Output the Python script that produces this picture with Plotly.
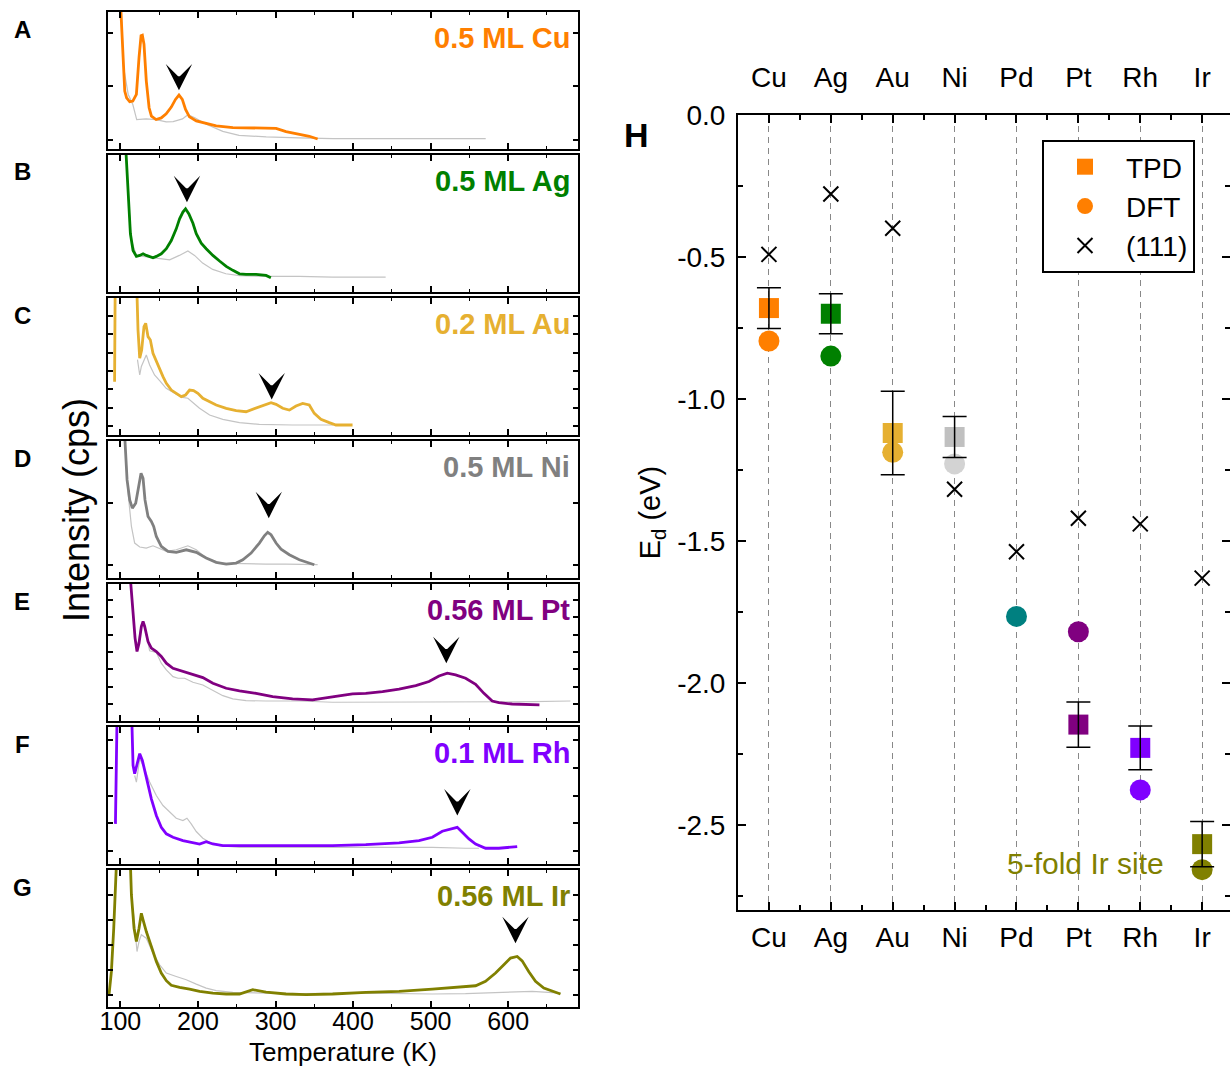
import plotly.graph_objects as go

W, H = 1230, 1068
FONT = "Arial, Liberation Sans, sans-serif"

# ---------------- Panels A-G : TPD spectra (arb. units, fraction of panel) ----------------
cu_T = [99, 103, 105.6, 108, 112, 116, 120.6, 124, 126.6, 128.3, 130.4, 133.4, 137, 140, 146, 152.7, 159,
        165.6, 171, 175.5, 179.8, 184, 189, 197.8, 210.6, 223.5, 245, 266, 287.8, 300.7, 313.5, 330.7, 343.6, 354.3]
cu_I = [1.2, 0.667, 0.423, 0.374, 0.345, 0.350, 0.399, 0.667, 0.826, 0.83, 0.765, 0.496, 0.301, 0.240, 0.215,
        0.227, 0.257, 0.306, 0.362, 0.394, 0.362, 0.289, 0.235, 0.205, 0.186, 0.169, 0.156, 0.154, 0.156, 0.151,
        0.127, 0.105, 0.093, 0.073]
cu_ref_T = [100, 104, 110, 116, 121, 133, 146, 159, 168, 180, 187, 196, 210, 232, 253, 288, 330, 374, 450, 520, 571]
cu_ref_I = [1.2, 0.6, 0.4, 0.325, 0.215, 0.22, 0.215, 0.198, 0.2, 0.22, 0.25, 0.228, 0.183, 0.129, 0.100, 0.088,
            0.081, 0.076, 0.076, 0.077, 0.076]

ag_T = [105, 109.9, 112.9, 116.3, 120.6, 124.9, 129.2, 133.4, 137.7, 142, 146.3, 152.7, 159.2, 165.6, 172, 176.3,
        180.6, 184, 188.3, 193.5, 197.8, 204.2, 210.6, 219.2, 227.8, 236.4, 245, 253.5, 262, 275, 287.8, 294]
ag_I = [1.25, 0.667, 0.425, 0.303, 0.260, 0.267, 0.279, 0.267, 0.260, 0.250, 0.260, 0.279, 0.316, 0.376, 0.461,
        0.534, 0.583, 0.607, 0.570, 0.502, 0.425, 0.357, 0.316, 0.267, 0.226, 0.187, 0.158, 0.133, 0.129, 0.129,
        0.121, 0.104]
ag_ref_T = [106, 110, 114.2, 120.6, 129.2, 142, 155, 163.5, 176, 187, 195.6, 206, 219, 236, 253.5, 288, 330.7,
            373.6, 442]
ag_ref_I = [1.2, 0.7, 0.376, 0.267, 0.260, 0.250, 0.243, 0.235, 0.267, 0.299, 0.267, 0.211, 0.165, 0.133, 0.119,
            0.114, 0.114, 0.109, 0.109]

au_T = [92.5, 93.5, 120, 122.7, 124.9, 127.4, 130.4, 132.6, 135.6, 138.6, 142, 146.3, 150.6, 154.9, 159.2, 165.6,
        172, 178.5, 184, 189.2, 194.3, 199.9, 206.3, 214.9, 223.5, 236.4, 249.2, 262, 275, 287.8, 294.2, 300.7,
        309.3, 317.8, 326.4, 335, 343.5, 350, 358.5, 369.3, 377.9, 399.3]
au_I = [0.389, 1.3, 1.3, 0.766, 0.560, 0.620, 0.791, 0.815, 0.718, 0.693, 0.596, 0.535, 0.474, 0.426, 0.377,
        0.328, 0.304, 0.280, 0.292, 0.328, 0.324, 0.304, 0.268, 0.243, 0.219, 0.195, 0.178, 0.170, 0.195, 0.219,
        0.236, 0.224, 0.195, 0.182, 0.212, 0.231, 0.219, 0.158, 0.114, 0.090, 0.073, 0.073]
au_ref_T = [122, 124.9, 127, 133.4, 137.7, 144, 150.6, 159, 172, 180, 187, 193, 202, 215, 232, 253.5, 279, 322, 374]
au_ref_I = [0.55, 0.438, 0.5, 0.584, 0.511, 0.438, 0.397, 0.341, 0.297, 0.275, 0.268, 0.240, 0.195, 0.146, 0.114,
            0.090, 0.078, 0.073, 0.073]

ni_T = [104, 105.6, 108.6, 112, 115.4, 119.7, 124, 126.6, 129.2, 131.7, 135.6, 139.9, 142.9, 146.3, 152.7, 161.3,
        172, 184.9, 197.8, 210.6, 223.5, 236.4, 249.2, 257.8, 268.5, 279.2, 285.6, 289.9, 294.2, 300.7, 307.1,
        317.8, 330.7, 341.4, 350]
ni_I = [1.2, 1.0, 0.716, 0.570, 0.510, 0.546, 0.667, 0.765, 0.728, 0.570, 0.449, 0.413, 0.376, 0.303, 0.231,
        0.194, 0.187, 0.206, 0.187, 0.146, 0.114, 0.102, 0.109, 0.133, 0.182, 0.255, 0.308, 0.333, 0.316, 0.255,
        0.211, 0.170, 0.133, 0.114, 0.097]
ni_ref_T = [105, 109.9, 114.2, 118.4, 124.9, 133.4, 142, 148.5, 159.2, 172, 187, 197.8, 210.6, 227.8, 253.5,
            287.8, 313.5, 354.3]
ni_ref_I = [1.1, 0.619, 0.376, 0.255, 0.226, 0.218, 0.235, 0.218, 0.194, 0.206, 0.235, 0.206, 0.146, 0.109, 0.104,
            0.102, 0.102, 0.097]

pt_T = [112, 116.3, 118.9, 121.4, 124, 127, 129.2, 131.3, 135.6, 139.9, 146.3, 152.7, 159.2, 167.8, 180.6, 193.5,
        206.3, 219.2, 236.4, 253.5, 274.9, 296.3, 322, 347.7, 364.9, 382, 399.3, 416.4, 437.9, 459.3, 480.8, 497.9,
        510.8, 521.5, 532.2, 545.1, 558, 568.7, 579.4, 588, 605.1, 622.3, 640.3]
pt_I = [1.1, 0.761, 0.605, 0.507, 0.568, 0.690, 0.727, 0.690, 0.580, 0.532, 0.507, 0.471, 0.422, 0.385, 0.361,
        0.337, 0.317, 0.276, 0.239, 0.220, 0.202, 0.178, 0.161, 0.154, 0.166, 0.183, 0.198, 0.202, 0.215, 0.232,
        0.259, 0.288, 0.329, 0.349, 0.337, 0.312, 0.268, 0.202, 0.146, 0.134, 0.124, 0.122, 0.117]
pt_ref_T = [118, 121.4, 127, 130, 137.7, 146.3, 152.7, 159.2, 167.8, 174.2, 182.8, 193.5, 206.3, 219.2, 232.1,
            244.9, 262, 287.8, 330.7, 373.6, 416.4, 502.1, 588, 630.9, 680.2]
pt_ref_I = [0.62, 0.52, 0.70, 0.72, 0.512, 0.50, 0.422, 0.373, 0.324, 0.312, 0.312, 0.283, 0.263, 0.227, 0.185,
            0.161, 0.149, 0.146, 0.146, 0.137, 0.137, 0.137, 0.137, 0.141, 0.146]

rh_T = [93.6, 96, 114, 116.3, 118.4, 121.4, 124.9, 128.3, 133.4, 139.9, 146.3, 152.7, 159.2, 167.8, 180.6, 193.5,
        202.1, 210.6, 219.2, 232.1, 253.5, 287.8, 330.7, 373.6, 416.4, 459.3, 485, 502.2, 515, 525.8, 534.3, 540.8,
        549.4, 558, 570.8, 588, 600.9, 611.6]
rh_I = [0.293, 1.2, 1.2, 0.720, 0.659, 0.720, 0.805, 0.756, 0.622, 0.476, 0.354, 0.268, 0.220, 0.195, 0.171,
        0.159, 0.146, 0.163, 0.146, 0.134, 0.134, 0.129, 0.134, 0.134, 0.141, 0.154, 0.171, 0.195, 0.239, 0.256,
        0.268, 0.232, 0.183, 0.146, 0.115, 0.115, 0.120, 0.127]
rh_ref_T = [118.4, 120.6, 124.9, 129.2, 137.7, 146.3, 154.9, 163.5, 172, 180.6, 185.8, 191.3, 197.8, 206.3, 215,
            227.8, 253.5, 287.8, 373.6, 459.3, 502.2, 545, 562.3]
rh_ref_I = [0.646, 0.598, 0.768, 0.720, 0.598, 0.500, 0.427, 0.378, 0.334, 0.317, 0.334, 0.293, 0.237, 0.188,
            0.159, 0.134, 0.122, 0.122, 0.122, 0.122, 0.122, 0.115, 0.115]

ir_T = [85.4, 88.4, 91.4, 94, 96, 112, 114.2, 117.6, 120.6, 124, 127, 129.2, 133.4, 139.9, 146.3, 152.7, 159.2,
        165.6, 176.3, 189.2, 202.1, 219.2, 236.4, 253.5, 270.7, 287.8, 313.5, 339.3, 373.6, 416.4, 459.3, 502.2,
        536.5, 558, 570.8, 583.7, 594.4, 603, 611.6, 618, 626.6, 635.2, 645.9, 656.6, 667.4]
ir_I = [0.095, 0.260, 0.575, 0.866, 1.2, 1.2, 0.818, 0.575, 0.478, 0.575, 0.684, 0.636, 0.551, 0.442, 0.333,
        0.248, 0.192, 0.158, 0.143, 0.131, 0.114, 0.102, 0.095, 0.095, 0.126, 0.109, 0.095, 0.090, 0.095, 0.107,
        0.114, 0.131, 0.143, 0.155, 0.187, 0.248, 0.308, 0.357, 0.369, 0.337, 0.257, 0.187, 0.138, 0.114, 0.095]
ir_ref_T = [116.3, 121.4, 124, 127, 133.4, 142, 150.6, 159.2, 172, 184.9, 197.8, 210.6, 223.5, 245, 287.8, 330.7,
            416.4, 502.2, 545, 588, 630.9, 667.4]
ir_ref_I = [0.72, 0.405, 0.478, 0.527, 0.502, 0.393, 0.308, 0.248, 0.223, 0.199, 0.167, 0.138, 0.119, 0.107,
            0.102, 0.097, 0.102, 0.095, 0.097, 0.107, 0.114, 0.102]

panel_letters = ["A", "B", "C", "D", "E", "F", "G"]
panel_labels = ["0.5 ML Cu", "0.5 ML Ag", "0.2 ML Au", "0.5 ML Ni", "0.56 ML Pt", "0.1 ML Rh", "0.56 ML Ir"]
panel_colors = ["#FF7F00", "#008000", "#E6B031", "#808080", "#800080", "#8000FF", "#808000"]
panel_T = [cu_T, ag_T, au_T, ni_T, pt_T, rh_T, ir_T]
panel_I = [cu_I, ag_I, au_I, ni_I, pt_I, rh_I, ir_I]
panel_ref_T = [cu_ref_T, ag_ref_T, au_ref_T, ni_ref_T, pt_ref_T, rh_ref_T, ir_ref_T]
panel_ref_I = [cu_ref_I, ag_ref_I, au_ref_I, ni_ref_I, pt_ref_I, rh_ref_I, ir_ref_I]
peak_T = [175.5, 185.8, 295.1, 291.3, 520.2, 534.4, 609.4]
peak_I = [0.428, 0.655, 0.26, 0.437, 0.422, 0.354, 0.466]
temp_ticks = [100, 200, 300, 400, 500, 600]

# ---------------- Panel H : desorption energies ----------------
metals = ["Cu", "Ag", "Au", "Ni", "Pd", "Pt", "Rh", "Ir"]
metal_colors = ["#FF7F00", "#008000", "#E6B031", "#C0C0C0", "#008080", "#800080", "#8000FF", "#808000"]
dft_colors = ["#FF7F00", "#008000", "#E6B031", "#D3D3D3", "#008080", "#800080", "#8000FF", "#808000"]
tpd_metals = ["Cu", "Ag", "Au", "Ni", "Pt", "Rh", "Ir"]
tpd_E = [-0.68, -0.70, -1.12, -1.134, -2.147, -2.229, -2.568]
tpd_err = [0.072, 0.07, 0.147, 0.072, 0.08, 0.077, 0.08]
dft_E = [-0.796, -0.849, -1.188, -1.229, -1.766, -1.820, -2.377, -2.658]
e111_E = [-0.491, -0.278, -0.399, -1.318, -1.538, -1.420, -1.440, -1.631]
ed_ticks = [0.0, -0.5, -1.0, -1.5, -2.0, -2.5]
ed_ticktext = ["0.0", "-0.5", "-1.0", "-1.5", "-2.0", "-2.5"]

pos = {m: i + 1 for i, m in enumerate(metals)}
xpos = [pos[m] for m in metals]
tpd_x = [pos[m] for m in tpd_metals]
tpd_col = [metal_colors[metals.index(m)] for m in tpd_metals]

fig = go.Figure()

PANEL_TOP = [12, 155, 298, 441, 584, 727, 870]
PANEL_H = 137
PX_L, PX_R = 108, 578
ytick_setup = [(0.068, 0.39), (None, None), (0.066, 0.134), (0.097, 0.449), (0.122, 0.127), (0.0976, 0.201),
               (0.09, 0.182)]

layout = {}
annotations = []
for i in range(7):
    n = "" if i == 0 else str(i + 1)
    xa, ya = "x" + n, "y" + n
    top = PANEL_TOP[i]
    fig.add_trace(go.Scatter(x=panel_ref_T[i], y=panel_ref_I[i], xaxis=xa, yaxis=ya, mode="lines",
                             line=dict(color="#C4C4C4", width=1.2), showlegend=False, hoverinfo="skip"))
    fig.add_trace(go.Scatter(x=panel_T[i], y=panel_I[i], xaxis=xa, yaxis=ya, mode="lines",
                             line=dict(color=panel_colors[i], width=2.8), showlegend=False, hoverinfo="skip"))
    layout["xaxis" + n] = dict(
        domain=[PX_L / W, PX_R / W], range=[84, 690], anchor=ya,
        showline=True, linecolor="black", linewidth=2, mirror="ticks",
        ticks="inside", ticklen=6, tickwidth=1.5, tickcolor="black",
        tickvals=temp_ticks, showticklabels=(i == 6), ticklabelstandoff=-9,
        tickfont=dict(family=FONT, size=25, color="black"),
        minor=dict(ticks="inside", ticklen=3, tickwidth=1, tickcolor="black", dtick=50, tick0=0),
        showgrid=False, zeroline=False, fixedrange=True)
    t0, dt = ytick_setup[i]
    yd = dict(domain=[1 - (top + PANEL_H) / H, 1 - top / H], range=[0, 1], anchor=xa,
              showline=True, linecolor="black", linewidth=2, mirror="ticks",
              showticklabels=False, showgrid=False, zeroline=False, fixedrange=True)
    if t0 is not None:
        yd.update(ticks="inside", ticklen=5, tickwidth=1.5, tickcolor="black", tick0=t0, dtick=dt)
    else:
        yd.update(ticks="")
    layout["yaxis" + n] = yd
    # arrowhead above the desorption peak
    annotations.append(dict(x=peak_T[i], y=peak_I[i], xref=xa, yref=ya, text="", showarrow=True,
                            arrowhead=3, arrowsize=4.4, arrowwidth=1, arrowcolor="black", ax=0, ay=-11))
    annotations.append(dict(x=572 / W, y=1 - (top + 26) / H, xref="paper", yref="paper", text=panel_labels[i],
                            showarrow=False, xanchor="right", yanchor="middle",
                            font=dict(family=FONT, size=29, color=panel_colors[i], weight="bold")))
    annotations.append(dict(x=22 / W, y=1 - (top + 17) / H, xref="paper", yref="paper", text=panel_letters[i],
                            showarrow=False, xanchor="center", yanchor="middle",
                            font=dict(family=FONT, size=24, color="black", weight="bold")))

annotations.append(dict(x=77 / W, y=1 - 510 / H, xref="paper", yref="paper", text="Intensity (cps)",
                        textangle=-90, showarrow=False, xanchor="center", yanchor="middle",
                        font=dict(family=FONT, size=36, color="black")))
annotations.append(dict(x=343 / W, y=1 - 1052 / H, xref="paper", yref="paper", text="Temperature (K)",
                        showarrow=False, xanchor="center", yanchor="middle",
                        font=dict(family=FONT, size=26, color="black")))

# ---- panel H traces ----
fig.add_trace(go.Scatter(x=xpos, y=dft_E, xaxis="x8", yaxis="y8", mode="markers", name="DFT",
                         marker=dict(symbol="circle", size=21, color=dft_colors), legendrank=2,
                         legendgroup="b"))
fig.add_trace(go.Scatter(x=tpd_x, y=tpd_E, xaxis="x8", yaxis="y8", mode="markers", name="TPD",
                         marker=dict(symbol="square", size=20, color=tpd_col), legendrank=1,
                         legendgroup="a"))
fig.add_trace(go.Scatter(x=xpos, y=e111_E, xaxis="x8", yaxis="y8", mode="markers", name="(111)",
                         marker=dict(symbol="x-thin", size=15, color="black", line=dict(color="black", width=2)),
                         legendrank=3, legendgroup="c"))
fig.add_trace(go.Scatter(x=tpd_x, y=tpd_E, xaxis="x8", yaxis="y8", mode="markers", showlegend=False,
                         marker=dict(size=1, opacity=0), hoverinfo="skip",
                         error_y=dict(type="data", array=tpd_err, visible=True, color="black",
                                      thickness=1.5, width=12)))
fig.add_trace(go.Scatter(x=xpos, y=e111_E, xaxis="x9", yaxis="y8", mode="markers", showlegend=False,
                         marker=dict(size=1, opacity=0), hoverinfo="skip"))

HX0 = 738
HY0, HY1 = 115, 910
xr = [0.5, 8.45]
layout["xaxis8"] = dict(domain=[HX0 / W, 1.0], range=xr, anchor="y8",
                        tickvals=xpos, ticktext=metals, showline=True, linecolor="black", linewidth=2,
                        mirror="ticks", ticks="inside", ticklen=8, tickwidth=1.5, tickcolor="black",
                        minor=dict(tickvals=[p + 0.5 for p in xpos[:-1]], ticks="inside", ticklen=5,
                                   tickwidth=1.5, tickcolor="black", showgrid=False),
                        showgrid=True, gridcolor="#888888", gridwidth=1, griddash="6px,5px",
                        zeroline=False, ticklabelstandoff=1,
                        tickfont=dict(family=FONT, size=28, color="black"), fixedrange=True)
layout["xaxis9"] = dict(domain=[HX0 / W, 1.0], range=xr, anchor="y8", overlaying="x8", side="top",
                        tickvals=xpos, ticktext=metals, showline=False, ticks="", showgrid=False,
                        zeroline=False, ticklabelstandoff=21,
                        tickfont=dict(family=FONT, size=28, color="black"), fixedrange=True)
layout["yaxis8"] = dict(domain=[1 - HY1 / H, 1 - HY0 / H], range=[-2.8, 0], anchor="x8",
                        tickvals=ed_ticks, ticktext=ed_ticktext, showline=True, linecolor="black", linewidth=2,
                        mirror="ticks", ticks="inside", ticklen=8, tickwidth=1.5, tickcolor="black",
                        minor=dict(tickvals=[t - 0.25 for t in ed_ticks], ticks="inside", ticklen=5,
                                   tickwidth=1.5, tickcolor="black", showgrid=False),
                        showgrid=False, zeroline=False, ticklabelstandoff=5,
                        title=dict(text="E<sub>d</sub> (eV)", font=dict(family=FONT, size=29, color="black"),
                                   standoff=8),
                        tickfont=dict(family=FONT, size=28, color="black"), fixedrange=True)

annotations.append(dict(x=636 / W, y=1 - 135 / H, xref="paper", yref="paper", text="H", showarrow=False,
                        xanchor="center", yanchor="middle",
                        font=dict(family=FONT, size=34, color="black", weight="bold")))
annotations.append(dict(x=1166 / W, y=1 - 863 / H, xref="paper", yref="paper", text="5-fold Ir site",
                        showarrow=False, xanchor="right", yanchor="middle",
                        font=dict(family=FONT, size=30, color="#808000")))

fig.update_layout(
    width=W, height=H, margin=dict(l=0, r=0, t=0, b=0, pad=0, autoexpand=False),
    paper_bgcolor="white", plot_bgcolor="white",
    font=dict(family=FONT, color="black"),
    annotations=annotations,
    showlegend=True,
    legend=dict(x=1042 / W, y=1 - 140 / H, xanchor="left", yanchor="top", bgcolor="white",
                bordercolor="black", borderwidth=2, font=dict(family=FONT, size=28, color="black"),
                itemwidth=72, tracegroupgap=0, traceorder="grouped"),
    **layout)

fig.write_html("out.html", config={"displayModeBar": False},
               post_script="document.body.style.margin='0';document.body.style.overflow='hidden';")
